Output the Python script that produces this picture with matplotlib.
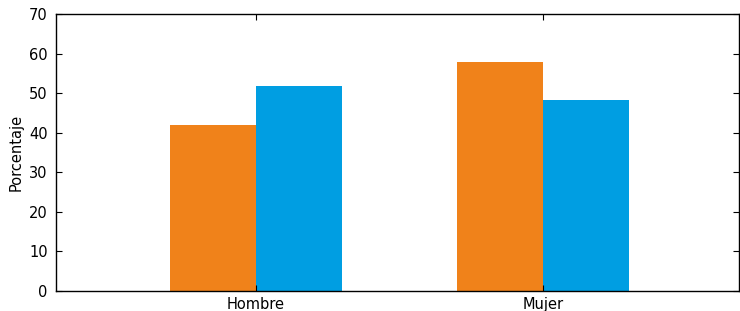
import numpy as np
import matplotlib
matplotlib.use("Agg")
import matplotlib.pyplot as plt

categories = ["Hombre", "Mujer"]
serie_naranja = [42.0, 57.9]
serie_azul = [51.8, 48.3]

color_naranja = "#F0821A"
color_azul = "#009EE2"

fig = plt.figure(figsize=(7.4, 3.11), dpi=100)
ax = fig.add_axes([56 / 740, 20 / 311, 683 / 740, 277 / 311])

x = np.arange(len(categories))
width = 0.3
ax.bar(x - width / 2, serie_naranja, width, color=color_naranja, linewidth=0)
ax.bar(x + width / 2, serie_azul, width, color=color_azul, linewidth=0)

ax.set_xlim(-0.697, 1.683)
ax.set_ylim(0, 70)
ax.set_yticks(np.arange(0, 71, 10))
ax.set_xticks(x)
ax.set_xticklabels(categories)
ax.set_ylabel("Porcentaje", fontsize=10.5, labelpad=4)

ax.tick_params(direction="in", top=True, right=True, length=4, width=0.8, labelsize=10.5, colors="black")
ax.tick_params(axis="y", pad=6)
ax.tick_params(axis="x", pad=4)
for s in ax.spines.values():
    s.set_linewidth(1.0)

fig.savefig("out.png", dpi=100)
